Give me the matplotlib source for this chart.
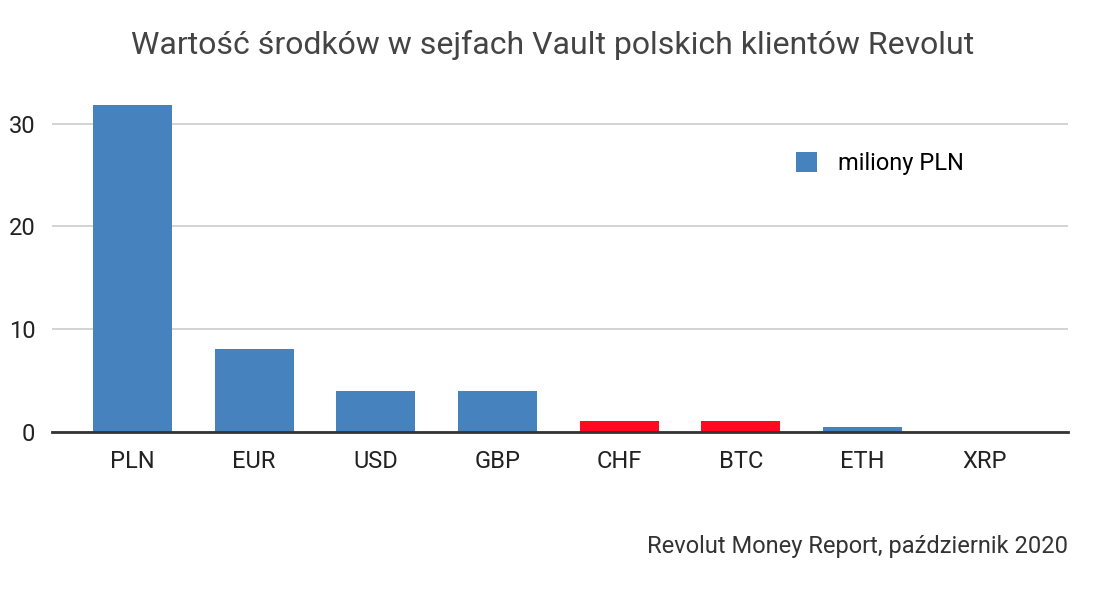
import matplotlib
matplotlib.use("Agg")
import matplotlib.pyplot as plt
from matplotlib.patches import Patch

plt.rcParams["font.family"] = ["Roboto", "DejaVu Sans"]

currencies = ["PLN", "EUR", "USD", "GBP", "CHF", "BTC", "ETH", "XRP"]
values_mln = [31.8, 8.1, 4.0, 4.0, 1.05, 1.05, 0.45, 0.0]
highlight = ["CHF", "BTC"]
y_ticks = [0, 10, 20, 30]

blue = "#4682be"
red = "#ff0a1e"
colors = [red if c in highlight else blue for c in currencies]

fig = plt.figure(figsize=(11.05, 6.04), dpi=100)
ax = fig.add_axes([0.047, 0.285, 0.9195, 0.58])

ax.bar(currencies, values_mln, width=0.649, color=colors, zorder=3)
ax.set_xlim(-0.661, 7.687)
ax.set_ylim(0, 34.1)
ax.set_yticks(y_ticks)
ax.grid(axis="y", color="#cccccc", linewidth=1.2, zorder=0)
for side in ["top", "right", "left"]:
    ax.spines[side].set_visible(False)
ax.spines["bottom"].set_color("#333333")
ax.spines["bottom"].set_linewidth(2)
ax.spines["bottom"].set_zorder(4)
ax.tick_params(axis="both", length=0, labelsize=17, colors="#222222")
ax.tick_params(axis="x", pad=13)
ax.tick_params(axis="y", pad=12)

ax.legend(handles=[Patch(facecolor=blue, label="miliony PLN")],
          loc="center left", bbox_to_anchor=(0.711, 0.766), frameon=False,
          fontsize=17, handlelength=0.9, handleheight=0.9, handletextpad=0.9)

fig.text(0.5, 0.925, "Wartość środków w sejfach Vault polskich klientów Revolut",
         ha="center", va="center", fontsize=23, color="#444444")
fig.text(0.9665, 0.096, "Revolut Money Report, październik 2020",
         ha="right", va="center", fontsize=17, color="#333333")

fig.savefig("out.png", dpi=100)
